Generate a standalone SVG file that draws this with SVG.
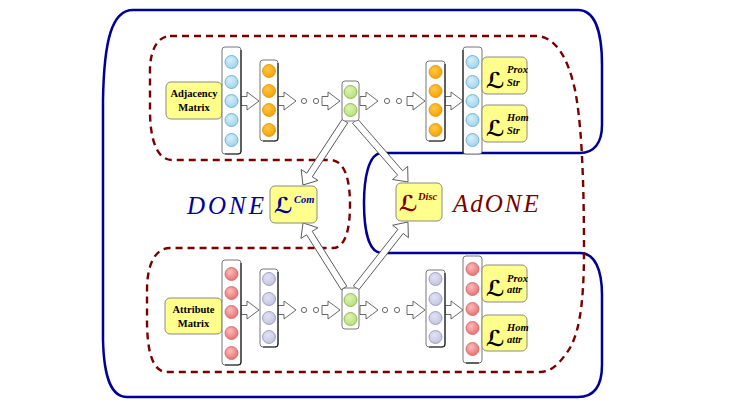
<svg xmlns="http://www.w3.org/2000/svg" width="730" height="412" viewBox="0 0 730 412">
<style>
.outer{fill:none;stroke:#000099;stroke-width:2.5}
.dash{fill:none;stroke:#7a0000;stroke-width:2.4;stroke-dasharray:7 5}
.col{fill:#fff;stroke:#777;stroke-width:1}
.colsh{fill:none;stroke:#222;stroke-width:1.2}
.cb{fill:url(#gb);stroke:#5aa8d0;stroke-width:0.8}
.co{fill:url(#go);stroke:#e09000;stroke-width:0.8}
.cg{fill:url(#gg);stroke:#80b040;stroke-width:0.8}
.cr{fill:url(#gr);stroke:#d06060;stroke-width:0.8}
.cl{fill:url(#gl);stroke:#8f8fbf;stroke-width:0.8}
.arr{fill:#fff;stroke:#444;stroke-width:0.8}
.dot{fill:#fff;stroke:#444;stroke-width:0.8}
.box{fill:#ffff8c;stroke:#8a8a8a;stroke-width:1}
.lbl{font-family:"Liberation Serif",serif;font-weight:bold;font-size:10.5px;fill:#000;text-anchor:middle}
.L{font-family:"DejaVu Serif","DejaVu Sans",serif;font-weight:bold;font-size:22px}
.sup{font-family:"Liberation Serif",serif;font-style:italic;font-weight:bold;font-size:10.5px}
.big{font-family:"Liberation Serif",serif;font-style:italic;font-size:25px}
</style>
<defs>
<radialGradient id="gb" cx="0.4" cy="0.35" r="0.7"><stop offset="0" stop-color="#d4f0fb"/><stop offset="1" stop-color="#9ed2ea"/></radialGradient>
<radialGradient id="go" cx="0.4" cy="0.35" r="0.7"><stop offset="0" stop-color="#ffc844"/><stop offset="1" stop-color="#f5a000"/></radialGradient>
<radialGradient id="gg" cx="0.4" cy="0.35" r="0.7"><stop offset="0" stop-color="#def3b4"/><stop offset="1" stop-color="#b8dc78"/></radialGradient>
<radialGradient id="gr" cx="0.4" cy="0.35" r="0.7"><stop offset="0" stop-color="#fbbcbc"/><stop offset="1" stop-color="#e86c6c"/></radialGradient>
<radialGradient id="gl" cx="0.4" cy="0.35" r="0.7"><stop offset="0" stop-color="#e2e2f4"/><stop offset="1" stop-color="#c2c2e0"/></radialGradient>
<path id="ra" d="M0,-4.5 H6 V-9 L18,0 L6,9 V4.5 H0 Z"/>
</defs>
<rect width="730" height="412" fill="#fff"/>

<g id="regions">
<path class="outer" d="M133,10 L578,10 C594,10 602,30 602,65 L602,125 C602,143 594,153 580,153 L382,153 C368,153 364,180 364,203 C364,228 368,253 382,253 L580,253 C595,253 602,270 602,295 L602,365 C602,385 595,397 578,397 L127,397 C112,397 104,380 103,340 L103,100 C104,40 112,10 133,10 Z"/>
<path class="dash" d="M170,36 L538,36 C556,38 568,58 575,90 C580,115 584,160 584,250 C584,310 578,340 565,355 C558,365 550,372 540,372 L167,372 C152,372 147,350 147,320 L147,290 C147,265 155,248 170,248 L333,248 C345,248 350,230 350,205 C350,180 345,160 330,160 L172,160 C157,160 150,140 150,110 L150,70 C150,50 158,36 170,36 Z"/>
</g>

<g id="connectors">
<use href="#ra" class="arr" transform="translate(241,101)"/>
<use href="#ra" class="arr" transform="translate(278,101)"/>
<use href="#ra" class="arr" transform="translate(322,101)"/>
<use href="#ra" class="arr" transform="translate(360,101)"/>
<use href="#ra" class="arr" transform="translate(407,101)"/>
<use href="#ra" class="arr" transform="translate(445,101)"/>
<circle class="dot" cx="304" cy="101" r="2.6"/><circle class="dot" cx="316" cy="101" r="2.6"/>
<circle class="dot" cx="387" cy="101" r="2.6"/><circle class="dot" cx="399" cy="101" r="2.6"/>
<use href="#ra" class="arr" transform="translate(241,310)"/>
<use href="#ra" class="arr" transform="translate(278,310)"/>
<use href="#ra" class="arr" transform="translate(322,310)"/>
<use href="#ra" class="arr" transform="translate(360,310)"/>
<use href="#ra" class="arr" transform="translate(407,310)"/>
<use href="#ra" class="arr" transform="translate(445,310)"/>
<circle class="dot" cx="304" cy="310" r="2.6"/><circle class="dot" cx="316" cy="310" r="2.6"/>
<circle class="dot" cx="385" cy="310" r="2.6"/><circle class="dot" cx="397" cy="310" r="2.6"/>
<path class="arr" transform="translate(345,121) rotate(123.3)" d="M0,-3.3 H64.6 V-10 L76.6,0 L64.6,10 V3.3 H0 Z"/>
<path class="arr" transform="translate(355,121) rotate(49)" d="M0,-3.3 H68.8 V-10 L80.8,0 L68.8,10 V3.3 H0 Z"/>
<path class="arr" transform="translate(344,288) rotate(-122.2)" d="M0,-3.3 H64.9 V-10 L76.9,0 L64.9,10 V3.3 H0 Z"/>
<path class="arr" transform="translate(356,288) rotate(-51.8)" d="M0,-3.3 H72 V-10 L84,0 L72,10 V3.3 H0 Z"/>
</g>

<g id="adjacency-matrix">
<rect class="box" x="166" y="82" width="56" height="37" rx="5"/>
<text class="lbl" x="194" y="97">Adjacency</text>
<text class="lbl" x="194" y="111">Matrix</text>
</g>
<g id="adj-input-col">
<rect class="col" x="222" y="47" width="19" height="107" rx="3"/>
<path class="colsh" d="M241,50 V151 Q241,154 238,154 H225"/>
<circle class="cb" cx="231.5" cy="62" r="6.5"/><circle class="cb" cx="231.5" cy="82" r="6.5"/><circle class="cb" cx="231.5" cy="101" r="6.5"/><circle class="cb" cx="231.5" cy="120" r="6.5"/><circle class="cb" cx="231.5" cy="140" r="6.5"/>
</g>
<g id="adj-hidden1">
<rect class="col" x="260" y="60" width="18" height="81" rx="3"/>
<path class="colsh" d="M278,63 V138 Q278,141 275,141 H263"/>
<circle class="co" cx="269" cy="71" r="6.5"/><circle class="co" cx="269" cy="91" r="6.5"/><circle class="co" cx="269" cy="110" r="6.5"/><circle class="co" cx="269" cy="130" r="6.5"/>
</g>
<g id="adj-embedding">
<rect class="col" x="342" y="81" width="17" height="40" rx="3"/>
<circle class="cg" cx="350.5" cy="92" r="6.5"/><circle class="cg" cx="350.5" cy="110" r="6.5"/>
</g>
<g id="adj-hidden2">
<rect class="col" x="426" y="61" width="19" height="80" rx="3"/>
<path class="colsh" d="M445,64 V138 Q445,141 442,141 H429"/>
<circle class="co" cx="435.5" cy="72" r="6.5"/><circle class="co" cx="435.5" cy="91" r="6.5"/><circle class="co" cx="435.5" cy="110" r="6.5"/><circle class="co" cx="435.5" cy="130" r="6.5"/>
</g>
<g id="adj-output-col">
<rect class="col" x="463" y="47" width="19" height="107" rx="3"/>
<path class="colsh" d="M463,50 V154"/>
<circle class="cb" cx="472.5" cy="62" r="6.5"/><circle class="cb" cx="472.5" cy="82" r="6.5"/><circle class="cb" cx="472.5" cy="101" r="6.5"/><circle class="cb" cx="472.5" cy="120" r="6.5"/><circle class="cb" cx="472.5" cy="140" r="6.5"/>
</g>
<g id="loss-prox-str">
<rect class="box" x="482" y="57" width="45" height="37" rx="5"/>
<text x="486" y="88" class="L">ℒ</text>
<text x="507" y="73" class="sup">Prox</text>
<text x="507" y="86" class="sup">Str</text>
</g>
<g id="loss-hom-str">
<rect class="box" x="482" y="105" width="45" height="37" rx="5"/>
<text x="486" y="136" class="L">ℒ</text>
<text x="507" y="121" class="sup">Hom</text>
<text x="507" y="134" class="sup">Str</text>
</g>

<g id="attribute-matrix">
<rect class="box" x="165" y="298" width="57" height="36" rx="5"/>
<text class="lbl" x="193.5" y="313">Attribute</text>
<text class="lbl" x="193.5" y="327">Matrix</text>
</g>
<g id="attr-input-col">
<rect class="col" x="222" y="260" width="19" height="105" rx="3"/>
<path class="colsh" d="M241,263 V362 Q241,365 238,365 H225"/>
<circle class="cr" cx="231.5" cy="274" r="6.5"/><circle class="cr" cx="231.5" cy="293" r="6.5"/><circle class="cr" cx="231.5" cy="312" r="6.5"/><circle class="cr" cx="231.5" cy="333" r="6.5"/><circle class="cr" cx="231.5" cy="353" r="6.5"/>
</g>
<g id="attr-hidden1">
<rect class="col" x="260" y="269" width="18" height="78" rx="3"/>
<path class="colsh" d="M278,272 V344 Q278,347 275,347 H263"/>
<circle class="cl" cx="269" cy="279" r="6.5"/><circle class="cl" cx="269" cy="299" r="6.5"/><circle class="cl" cx="269" cy="318" r="6.5"/><circle class="cl" cx="269" cy="337" r="6.5"/>
</g>
<g id="attr-embedding">
<rect class="col" x="342" y="288" width="17" height="41" rx="3"/>
<circle class="cg" cx="350.5" cy="300" r="6.5"/><circle class="cg" cx="350.5" cy="319" r="6.5"/>
</g>
<g id="attr-hidden2">
<rect class="col" x="426" y="270" width="19" height="77" rx="3"/>
<path class="colsh" d="M445,273 V344 Q445,347 442,347 H429"/>
<circle class="cl" cx="435.5" cy="279" r="6.5"/><circle class="cl" cx="435.5" cy="299" r="6.5"/><circle class="cl" cx="435.5" cy="318" r="6.5"/><circle class="cl" cx="435.5" cy="337" r="6.5"/>
</g>
<g id="attr-output-col">
<rect class="col" x="463" y="256" width="19" height="107" rx="3"/>
<path class="colsh" d="M466,363 H479"/>
<circle class="cr" cx="472.5" cy="269" r="6.5"/><circle class="cr" cx="472.5" cy="289" r="6.5"/><circle class="cr" cx="472.5" cy="309" r="6.5"/><circle class="cr" cx="472.5" cy="328" r="6.5"/><circle class="cr" cx="472.5" cy="349" r="6.5"/>
</g>
<g id="loss-prox-attr">
<rect class="box" x="482" y="265" width="45" height="37" rx="5"/>
<text x="486" y="296" class="L">ℒ</text>
<text x="507" y="282" class="sup">Prox</text>
<text x="507" y="293" class="sup">attr</text>
</g>
<g id="loss-hom-attr">
<rect class="box" x="482" y="315" width="45" height="36" rx="5"/>
<text x="486" y="346" class="L">ℒ</text>
<text x="507" y="331" class="sup">Hom</text>
<text x="507" y="343" class="sup">attr</text>
</g>

<g id="loss-com">
<rect class="box" x="270" y="186" width="47" height="37" rx="5"/>
<text x="274" y="213" class="L" fill="#000099">ℒ</text>
<text x="294" y="203" class="sup" fill="#000099" font-weight="normal" font-size="11">Com</text>
</g>
<g id="loss-disc">
<rect class="box" x="396" y="183" width="46" height="38" rx="5"/>
<text x="399" y="211" class="L" fill="#7a0000">ℒ</text>
<text x="418" y="200" class="sup" fill="#7a0000" font-weight="normal" font-size="11">Disc</text>
</g>
<g id="label-done">
<text x="187" y="214" class="big" fill="#000099" letter-spacing="3">DONE</text>
</g>
<g id="label-adone">
<text x="453" y="212" class="big" fill="#7a0000" font-size="23" letter-spacing="2">AdONE</text>
</g>
</svg>
